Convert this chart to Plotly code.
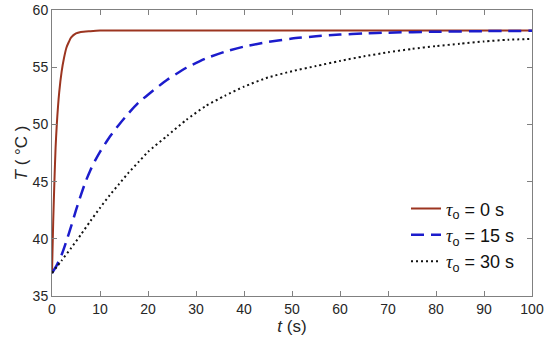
import plotly.graph_objects as go

# Data
t_red = [0, 0.25, 0.5, 0.75, 1.0, 1.5, 2.0, 2.5, 3.0, 3.5, 4.0, 5.0, 6.0, 8.0, 10, 20, 40, 60, 80, 100]
T_red = [37.0, 41.5, 45.0, 48.0, 50.0, 52.8, 54.6, 55.8, 56.7, 57.2, 57.6, 57.95, 58.08, 58.15, 58.2, 58.2, 58.2, 58.2, 58.2, 58.2]

t_blue = [0, 1, 2, 3, 4, 5, 6, 7, 8, 9, 10, 12, 14, 16, 18, 20, 24, 28, 32, 36, 40, 45, 50, 55, 60, 65, 70, 80, 90, 100]
T_blue = [37.0, 37.7, 38.6, 39.8, 41.1, 42.5, 43.8, 45.0, 46.0, 46.85, 47.6, 48.9, 50.0, 51.0, 51.9, 52.6,
          53.9, 54.95, 55.75, 56.35, 56.8, 57.2, 57.5, 57.7, 57.85, 57.95, 58.02, 58.1, 58.15, 58.18]

t_black = [0, 2, 4, 6, 8, 10, 12, 14, 16, 18, 20, 24, 28, 32, 36, 40, 45, 50, 55, 60, 65, 70, 75, 80, 85, 90, 95, 100]
T_black = [37.0, 38.1, 39.2, 40.35, 41.55, 42.7, 43.8, 44.8, 45.8, 46.7, 47.6, 49.0, 50.4, 51.6, 52.5, 53.3,
           54.1, 54.65, 55.1, 55.55, 55.95, 56.3, 56.6, 56.85, 57.05, 57.25, 57.4, 57.47]

TAU = '<span style="font-family:Liberation Serif, Times New Roman, serif"><i>τ</i></span>'
names = [TAU + "<sub>o</sub> = 0 s", TAU + "<sub>o</sub> = 15 s", TAU + "<sub>o</sub> = 30 s"]

x_ticks = [0, 10, 20, 30, 40, 50, 60, 70, 80, 90, 100]
y_ticks = [35, 40, 45, 50, 55, 60]

FONT = "Arial, Liberation Sans, sans-serif"

fig = go.Figure()
fig.add_trace(go.Scatter(x=t_red, y=T_red, mode="lines", name=names[0],
                         line=dict(color="#9c3520", width=2, shape="spline", smoothing=0.6)))
fig.add_trace(go.Scatter(x=t_blue, y=T_blue, mode="lines", name=names[1],
                         line=dict(color="#1c1ccc", width=2.5, dash="13px,7px", shape="spline", smoothing=0.6)))
fig.add_trace(go.Scatter(x=t_black, y=T_black, mode="lines", name=names[2],
                         line=dict(color="#111111", width=2, dash="2px,3px", shape="spline", smoothing=0.6)))

axis_common = dict(
    showline=True, linecolor="#808080", linewidth=1, mirror="ticks",
    ticks="inside", ticklen=5, tickcolor="#808080", tickwidth=1,
    showgrid=False, zeroline=False, automargin=False,
    tickfont=dict(family=FONT, size=14, color="#262626"),
)

fig.update_layout(
    width=550, height=348,
    margin=dict(l=52, r=18, t=10, b=52),
    paper_bgcolor="white", plot_bgcolor="white",
    font=dict(family=FONT, color="#262626"),
    xaxis=dict(range=[0, 100], tickvals=x_ticks,
               title=dict(text="<i>t</i> (s)", font=dict(family=FONT, size=17, color="#262626"), standoff=3),
               **axis_common),
    yaxis=dict(range=[35, 60], tickvals=y_ticks,
               title=dict(text="<i>T</i> ( °C )", font=dict(family=FONT, size=17, color="#262626"), standoff=0),
               **axis_common),
    legend=dict(x=0.975, y=0.055, xanchor="right", yanchor="bottom",
                bgcolor="rgba(255,255,255,0)", borderwidth=0,
                font=dict(family=FONT, size=18, color="#111111"),
                tracegroupgap=0),
    showlegend=True,
)

fig.write_html("out.html", config={"displayModeBar": False},
               post_script="document.body.style.margin='0';")
